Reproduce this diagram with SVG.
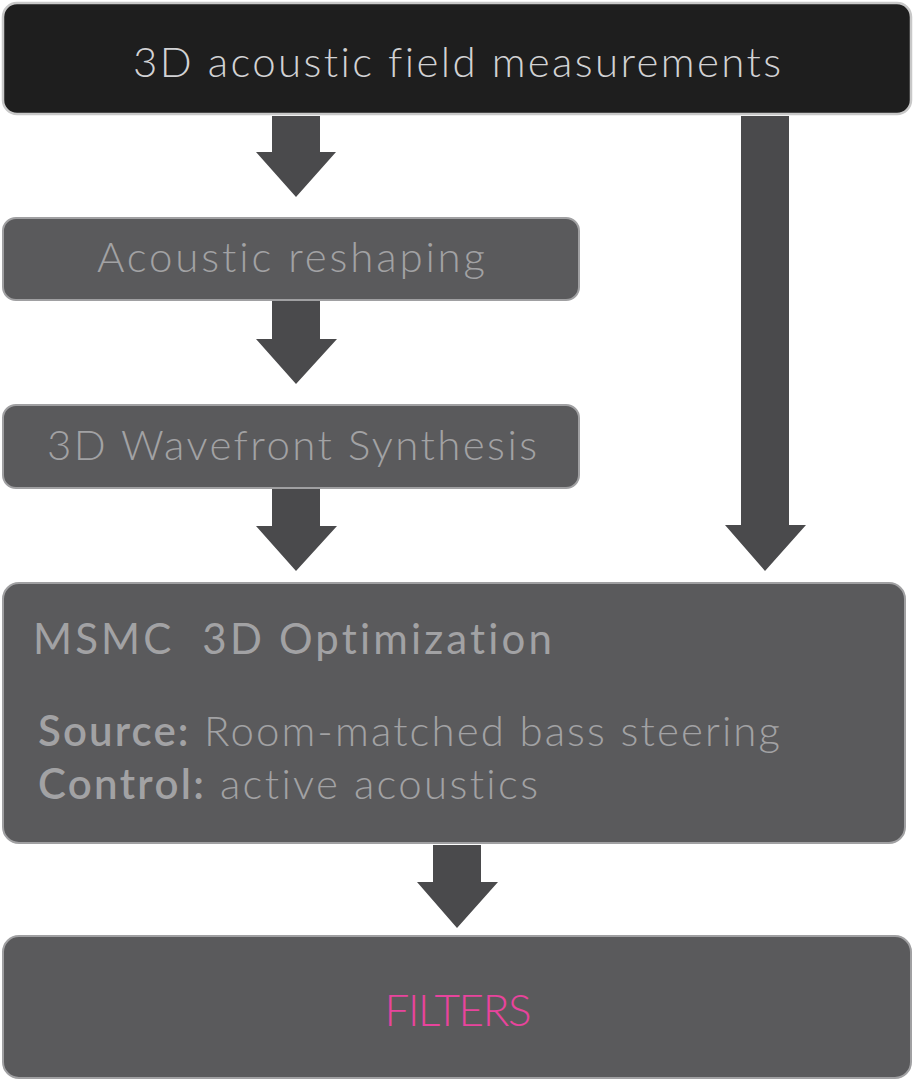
<svg xmlns="http://www.w3.org/2000/svg" width="915" height="1081" viewBox="0 0 915 1081">
<style>
.box{fill:#5a5a5c;stroke:#a0a0a2;stroke-width:2}
.top{fill:#1e1e1e;stroke:#c8c8c8;stroke-width:2.5}
.arrow{fill:#4a4a4c}
text{font-family:Lato,"Liberation Sans",sans-serif;font-weight:300;font-variant-ligatures:none}
.lbl{fill:#a2a2a4;font-size:42px}
.b{font-weight:600}
.title{font-weight:400}
</style>
<rect width="915" height="1081" fill="#ffffff"/>
<g id="connectors">
<path class="arrow" d="M272,116 H320 V152 H336 L296,197 L256,152 H272 Z"/>
<path class="arrow" d="M272,301 H320 V339 H337 L296,384 L256,339 H272 Z"/>
<path class="arrow" d="M272,488 H320 V526 H337 L296,571 L256,526 H272 Z"/>
<path class="arrow" d="M741,116 H789 V525 H806 L765,571 L725,525 H741 Z"/>
<path class="arrow" d="M433,845 H481 V882 H498 L457,928 L417,882 H433 Z"/>
</g>
<g id="measurements">
<rect class="top" x="3" y="3" width="908" height="111" rx="14"/>
<text x="457" y="77" text-anchor="middle" fill="#d2d2d4" font-size="42" textLength="648" lengthAdjust="spacing">3D acoustic field measurements</text>
</g>
<g id="reshaping">
<rect class="box" x="3" y="218" width="576" height="82" rx="13"/>
<text class="lbl" x="291" y="272" text-anchor="middle" textLength="388" lengthAdjust="spacing">Acoustic reshaping</text>
</g>
<g id="wavefront">
<rect class="box" x="3" y="405" width="576" height="83" rx="13"/>
<text class="lbl" x="292" y="460" text-anchor="middle" textLength="490" lengthAdjust="spacing">3D Wavefront Synthesis</text>
</g>
<g id="msmc">
<rect class="box" x="3" y="583" width="902" height="260" rx="16"/>
<text class="lbl title" x="33" y="654" xml:space="preserve" textLength="519" lengthAdjust="spacing">MSMC  3D Optimization</text>
<text class="lbl" x="38" y="746" textLength="742" lengthAdjust="spacing"><tspan class="b">Source:</tspan> Room-matched bass steering</text>
<text class="lbl" x="38" y="799" textLength="500" lengthAdjust="spacing"><tspan class="b">Control:</tspan> active acoustics</text>
</g>
<g id="filters">
<rect class="box" x="3" y="936" width="908" height="142" rx="16"/>
<text x="458" y="1026" text-anchor="middle" fill="#e8449c" font-size="44" textLength="147" lengthAdjust="spacing">FILTERS</text>
</g>
</svg>
